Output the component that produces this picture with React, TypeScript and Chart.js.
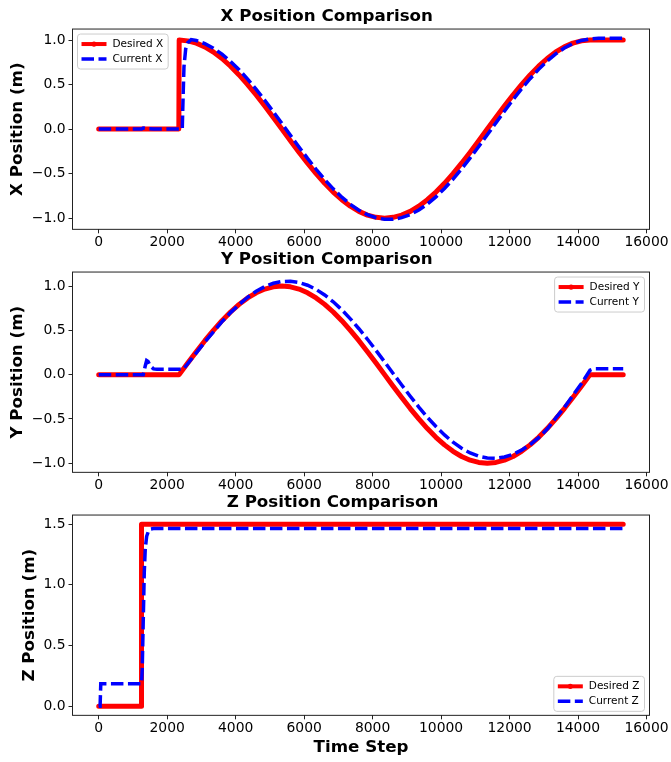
import React, { useEffect, useRef } from 'react';
import { Chart, registerables } from 'chart.js';

Chart.register(...registerables);
Chart.defaults.font.family = "'DejaVu Sans'";
Chart.defaults.color = '#000';

// ---- tick labels ----
const timeTicks = [0, 2000, 4000, 6000, 8000, 10000, 12000, 14000, 16000];
const xyTicks = [-1, -0.5, 0, 0.5, 1];
const zTicks = [0, 0.5, 1, 1.5];

// time steps read along the trajectory section
const waveTimes = [2350, 2600, 2850, 3100, 3350, 3600, 3850, 4100, 4350, 4600, 4850, 5100, 5350, 5600, 5850, 6100, 6350, 6600, 6850, 7100, 7350, 7600, 7850, 8100, 8350, 8600, 8850, 9100, 9350, 9600, 9850, 10100, 10350, 10600, 10850, 11100, 11350, 11600, 11850, 12100, 12350, 12600, 12850, 13100, 13350, 13600, 13850, 14100, 14350];

// ---- X position ----
const desiredXTimes = [0, 2340, ...waveTimes, 15320];
const desiredXValues = [0, 0,
  1, 0.991, 0.966, 0.924, 0.866, 0.793, 0.707, 0.609, 0.5, 0.383, 0.259, 0.131, 0,
  -0.131, -0.259, -0.383, -0.5, -0.609, -0.707, -0.793, -0.866, -0.924, -0.966, -0.991, -1,
  -0.991, -0.966, -0.924, -0.866, -0.793, -0.707, -0.609, -0.5, -0.383, -0.259, -0.131, 0,
  0.131, 0.259, 0.383, 0.5, 0.609, 0.707, 0.793, 0.866, 0.924, 0.966, 0.991, 1,
  1];
const currentXTimes = [0, 1250, 1300, 1400, 1600, 2440, 2460, 2490, 2540, 2600, 2700, ...waveTimes.slice(2), 14600, 15320];
const currentXValues = [0, 0, 0.012, 0.005, 0, 0, 0.3, 0.7, 0.9, 0.97, 1.005,
  0.995, 0.96, 0.909, 0.842, 0.761, 0.667, 0.562, 0.447, 0.324, 0.195, 0.064,
  -0.069, -0.201, -0.329, -0.451, -0.566, -0.671, -0.765, -0.845, -0.911, -0.962, -0.996, -1.013,
  -1.013, -0.995, -0.96, -0.909, -0.842, -0.761, -0.667, -0.562, -0.447, -0.324, -0.195, -0.064,
  0.069, 0.201, 0.329, 0.451, 0.566, 0.671, 0.765, 0.845, 0.911, 0.962, 0.996, 1.013,
  1.02, 1.02];

// ---- Y position ----
const desiredYTimes = [0, ...waveTimes, 15320];
const desiredYValues = [0,
  0, 0.131, 0.259, 0.383, 0.5, 0.609, 0.707, 0.793, 0.866, 0.924, 0.966, 0.991, 1,
  0.991, 0.966, 0.924, 0.866, 0.793, 0.707, 0.609, 0.5, 0.383, 0.259, 0.131, 0,
  -0.131, -0.259, -0.383, -0.5, -0.609, -0.707, -0.793, -0.866, -0.924, -0.966, -0.991, -1,
  -0.991, -0.966, -0.924, -0.866, -0.793, -0.707, -0.609, -0.5, -0.383, -0.259, -0.131, 0,
  0];
const currentYTimes = [0, 1300, 1360, 1400, 1440, 1500, 1600, 1700, 2470, ...waveTimes.slice(2), 14450, 15320];
const currentYValues = [0, 0, 0.1, 0.16, 0.15, 0.1, 0.065, 0.06, 0.06,
  0.245, 0.37, 0.482, 0.598, 0.7, 0.791, 0.873, 0.941, 0.994, 1.031, 1.051,
  1.054, 1.04, 1.009, 0.962, 0.899, 0.822, 0.732, 0.63, 0.518, 0.399, 0.273, 0.144,
  0.013, -0.117, -0.244, -0.366, -0.481, -0.586, -0.681, -0.763, -0.831, -0.884, -0.921, -0.941,
  -0.944, -0.93, -0.899, -0.852, -0.789, -0.712, -0.615, -0.49, -0.37, -0.235, -0.1, 0.05,
  0.065, 0.065];

// ---- Z position ----
const desiredZTimes = [0, 1240, 1250, 15320];
const desiredZValues = [0, 0, 1.5, 1.5];
const currentZTimes = [0, 40, 60, 1250, 1270, 1300, 1330, 1360, 1400, 1450, 1520, 1600, 15320];
const currentZValues = [0, 0, 0.185, 0.185, 0.3, 0.7, 1.1, 1.3, 1.4, 1.44, 1.46, 1.464, 1.464];

const RED = '#ff0000';
const BLUE = '#0000ff';
const DASH = [12.5, 4.5];

const toPoints = (t: number[], v: number[]) => t.map((x, i) => ({ x, y: v[i] }));
const fmt = (v: number, digits: number) => (digits ? v.toFixed(digits) : String(v)).replace('-', '\u2212');

const framePlugin = {
  id: 'frame',
  afterDraw(chart: any) {
    const { ctx, chartArea: a } = chart;
    ctx.save();
    ctx.strokeStyle = '#222';
    ctx.lineWidth = 1;
    ctx.strokeRect(a.left, a.top, a.right - a.left, a.bottom - a.top);
    ctx.restore();
  },
};

const legendPlugin = {
  id: 'mplLegend',
  afterDraw(chart: any, _args: any, opts: any) {
    const { ctx, chartArea: a } = chart;
    const labels: string[] = [opts.desired, opts.current];
    ctx.save();
    ctx.font = "10.5px 'DejaVu Sans'";
    const tw = Math.max(...labels.map((l) => ctx.measureText(l).width));
    const pad = 4, handle = 25, gap = 6;
    const w = pad + handle + gap + tw + 5;
    const h = 35;
    let x0 = a.left + 5;
    let y0 = a.top + 5;
    if (opts.corner === 'upper right') { x0 = a.right - 5 - w; }
    if (opts.corner === 'lower right') { x0 = a.right - 5 - w; y0 = a.bottom - 4 - h; }
    ctx.beginPath();
    ctx.roundRect(x0, y0, w, h, 3);
    ctx.fillStyle = 'rgba(255,255,255,0.8)';
    ctx.fill();
    ctx.strokeStyle = '#cccccc';
    ctx.lineWidth = 1;
    ctx.stroke();
    const r1 = y0 + 10, r2 = y0 + 25;
    ctx.beginPath();
    ctx.strokeStyle = RED;
    ctx.lineWidth = 4;
    ctx.moveTo(x0 + pad, r1);
    ctx.lineTo(x0 + pad + handle, r1);
    ctx.stroke();
    ctx.beginPath();
    ctx.fillStyle = RED;
    ctx.arc(x0 + pad + handle / 2, r1, 2.6, 0, Math.PI * 2);
    ctx.fill();
    ctx.beginPath();
    ctx.setLineDash(DASH);
    ctx.strokeStyle = BLUE;
    ctx.lineWidth = 3.5;
    ctx.moveTo(x0 + pad, r2);
    ctx.lineTo(x0 + pad + handle, r2);
    ctx.stroke();
    ctx.setLineDash([]);
    ctx.fillStyle = '#000';
    ctx.textBaseline = 'middle';
    ctx.textAlign = 'left';
    ctx.fillText(labels[0], x0 + pad + handle + gap, r1);
    ctx.fillText(labels[1], x0 + pad + handle + gap, r2);
    ctx.restore();
  },
};

type PanelProps = {
  top: number;
  height: number;
  title: string;
  yTitle: string;
  xTitle?: string;
  yMin: number;
  yMax: number;
  yTicks: number[];
  padLeft: number;
  corner: string;
  desired: { t: number[]; v: number[]; label: string };
  current: { t: number[]; v: number[]; label: string };
};

const TITLE_H = 7 + 16.7 * 1.2 + 2;
const PLOT_H = 200.3;
const PLOT_LEFT = 72.5;

function Panel(p: PanelProps) {
  const ref = useRef<HTMLCanvasElement | null>(null);
  useEffect(() => {
    if (!ref.current) return;
    const xAxisH = p.height - TITLE_H - PLOT_H;
    const chart = new Chart(ref.current, {
      type: 'line',
      data: {
        datasets: [
          {
            label: p.current.label,
            data: toPoints(p.current.t, p.current.v),
            borderColor: BLUE,
            borderWidth: 3.5,
            borderDash: DASH,
            pointRadius: 0,
            tension: 0,
            fill: false,
          },
          {
            label: p.desired.label,
            data: toPoints(p.desired.t, p.desired.v),
            borderColor: RED,
            borderWidth: 5,
            borderCapStyle: 'round',
            borderJoinStyle: 'round',
            pointRadius: 0,
            tension: 0,
            fill: false,
          },
        ],
      },
      options: {
        animation: false,
        responsive: false,
        events: [],
        layout: { padding: { left: p.padLeft, right: 671 - 649.5, top: 0, bottom: 0 } },
        plugins: {
          legend: { display: false },
          tooltip: { enabled: false },
          title: {
            display: true,
            text: p.title,
            color: '#000',
            font: { size: 16.7, weight: 'bold' },
            padding: { top: 7, bottom: 2 },
          },
          mplLegend: { corner: p.corner, desired: p.desired.label, current: p.current.label },
        } as any,
        scales: {
          x: {
            type: 'linear',
            min: -766,
            max: 16088,
            afterBuildTicks: (s: any) => { s.ticks = timeTicks.map((value) => ({ value })); },
            afterFit: (s: any) => { s.height = xAxisH; s.paddingLeft = 0; s.paddingRight = 0; },
            ticks: {
              autoSkip: false,
              maxRotation: 0,
              minRotation: 0,
              padding: 1,
              color: '#000',
              font: { size: 13.9 },
              callback: (v: any) => fmt(Number(v), 0),
            },
            grid: { drawOnChartArea: false, drawTicks: true, tickLength: 4, color: '#222' },
            border: { display: false },
            title: {
              display: !!p.xTitle,
              text: p.xTitle || '',
              color: '#000',
              font: { size: 16.7, weight: 'bold' },
              padding: { top: 0, bottom: 4 },
            },
          },
          y: {
            type: 'linear',
            min: p.yMin,
            max: p.yMax,
            afterBuildTicks: (s: any) => { s.ticks = p.yTicks.map((value) => ({ value })); },
            afterFit: (s: any) => { s.width = PLOT_LEFT - p.padLeft; s.paddingTop = 0; s.paddingBottom = 0; },
            ticks: {
              padding: 3,
              color: '#000',
              font: { size: 13.9 },
              callback: (v: any) => fmt(Number(v), 1),
            },
            grid: { drawOnChartArea: false, drawTicks: true, tickLength: 4, color: '#222' },
            border: { display: false },
            title: {
              display: true,
              text: p.yTitle,
              color: '#000',
              font: { size: 16.7, weight: 'bold' },
              padding: { top: 4, bottom: 0 },
            },
          },
        },
      } as any,
      plugins: [framePlugin, legendPlugin as any],
    });
    return () => chart.destroy();
  }, []);
  return (
    <canvas
      ref={ref}
      width={671}
      height={p.height}
      style={{ position: 'absolute', left: 0, top: p.top, display: 'block' }}
    />
  );
}

export default function App() {
  useEffect(() => {
    document.body.style.margin = '0';
    document.body.style.background = '#fff';
  }, []);
  return (
    <div style={{ position: 'relative', width: 671, height: 762, background: '#fff' }}>
      <Panel
        top={0}
        height={250}
        title="X Position Comparison"
        yTitle="X Position (m)"
        yMin={-1.126}
        yMax={1.124}
        yTicks={xyTicks}
        padLeft={4}
        corner="upper left"
        desired={{ t: desiredXTimes, v: desiredXValues, label: 'Desired X' }}
        current={{ t: currentXTimes, v: currentXValues, label: 'Current X' }}
      />
      <Panel
        top={243}
        height={250}
        title="Y Position Comparison"
        yTitle="Y Position (m)"
        yMin={-1.103}
        yMax={1.158}
        yTicks={xyTicks}
        padLeft={4}
        corner="upper right"
        desired={{ t: desiredYTimes, v: desiredYValues, label: 'Desired Y' }}
        current={{ t: currentYTimes, v: currentYValues, label: 'Current Y' }}
      />
      <Panel
        top={486}
        height={276}
        title="Z Position Comparison"
        yTitle="Z Position (m)"
        xTitle="Time Step"
        yMin={-0.075}
        yMax={1.575}
        yTicks={zTicks}
        padLeft={15.6}
        corner="lower right"
        desired={{ t: desiredZTimes, v: desiredZValues, label: 'Desired Z' }}
        current={{ t: currentZTimes, v: currentZValues, label: 'Current Z' }}
      />
    </div>
  );
}
